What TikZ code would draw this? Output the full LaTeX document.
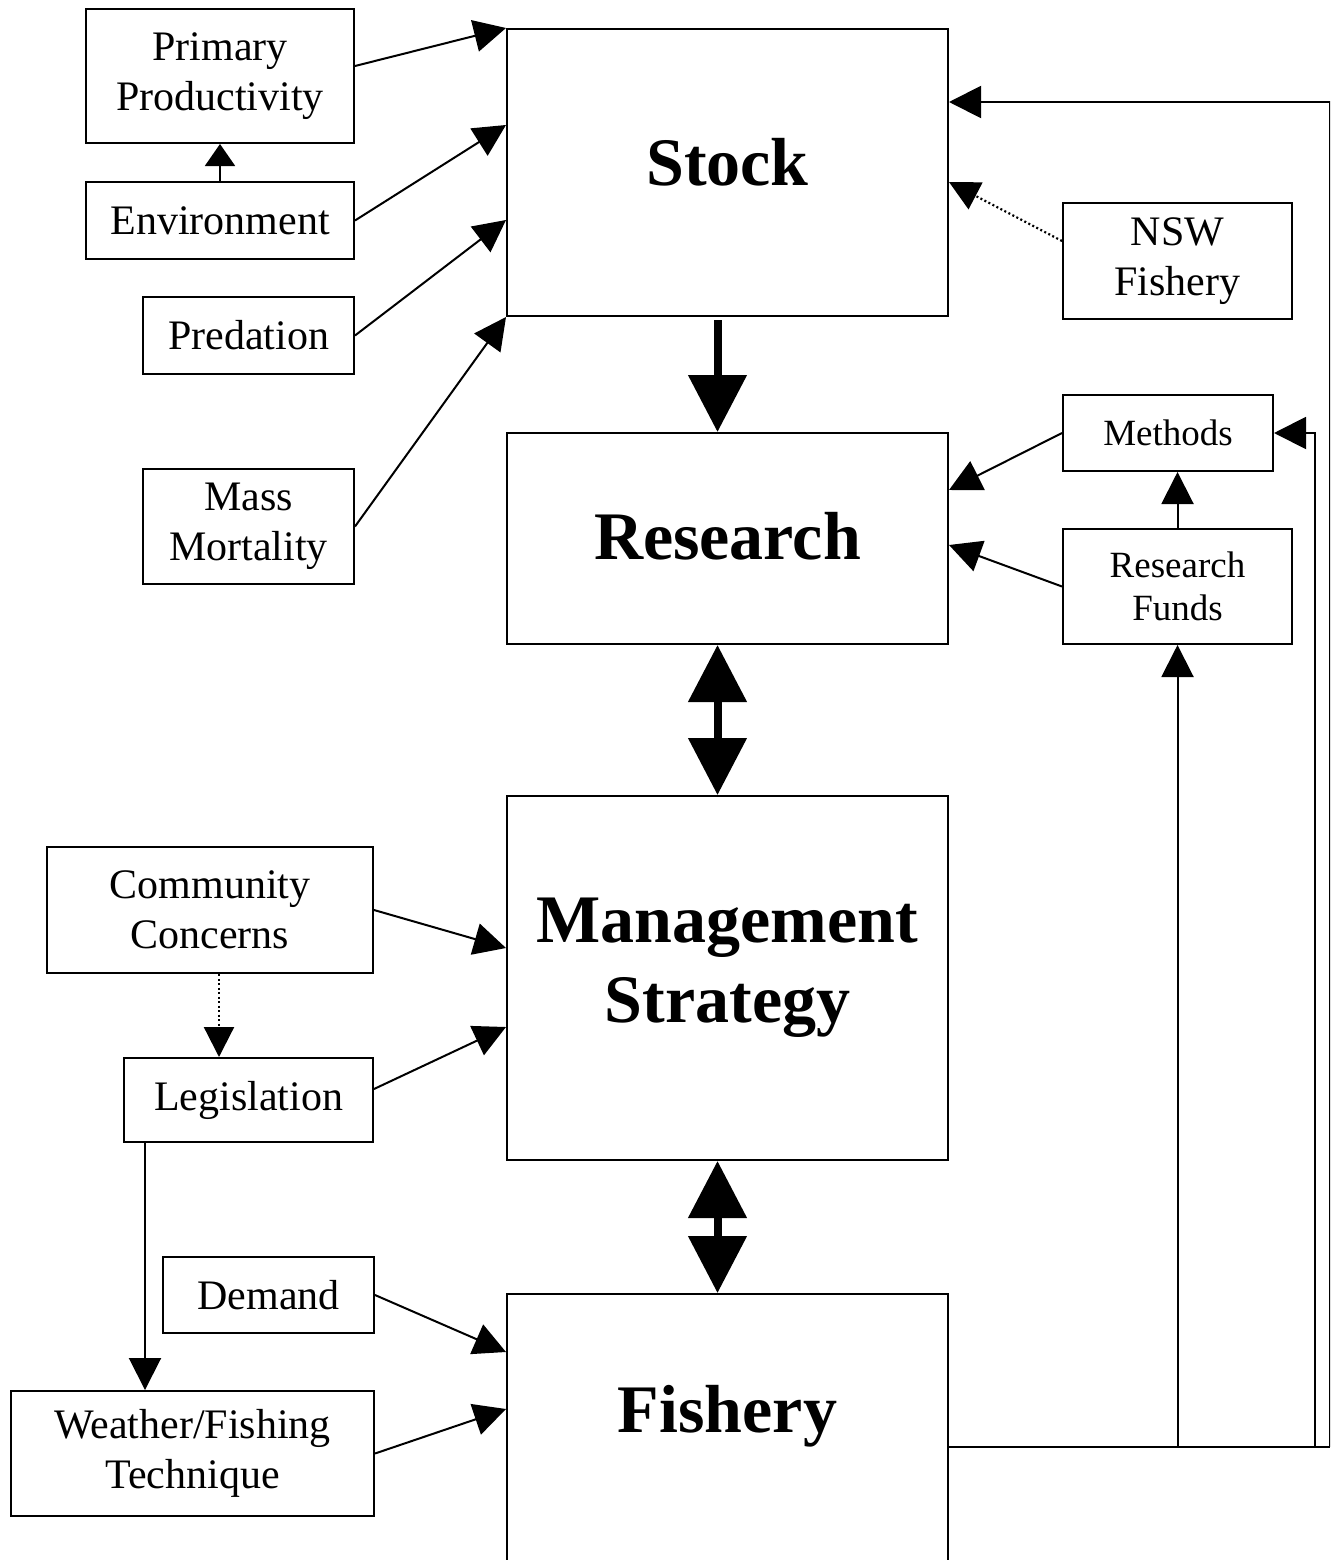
\documentclass[tikz,border=0pt]{standalone}
\usepackage{fontspec}
\setmainfont{Liberation Serif}
\usetikzlibrary{arrows.meta,calc}
\begin{document}
\begin{tikzpicture}[x=1pt,y=-1pt,
  box/.style={draw, line width=2pt, inner sep=0pt, anchor=north west, align=center,
    font=\fontsize{42}{50}\selectfont},
  sbox/.style={box, font=\fontsize{37}{43}\selectfont},
  bigbox/.style={draw, line width=2pt, inner sep=0pt, anchor=north west},
  bigtext/.style={font=\bfseries\fontsize{68}{80}\selectfont, align=center, inner sep=0pt},
  arr/.style={line width=2pt, -{Triangle[length=32pt,width=32pt]}},
  smallarr/.style={line width=2pt, -{Triangle[length=22pt,width=30pt]}},
  dotarr/.style={line width=2.2pt, dash pattern=on 2pt off 2.5pt, -{Triangle[length=30pt,width=30pt]}},
  thickarr/.style={line width=8pt, -{Triangle[length=57pt,width=57pt]}},
  dblarr/.style={line width=8pt, {Triangle[length=57pt,width=57pt]}-{Triangle[length=57pt,width=57pt]}},
]
\fill[white] (0,0) rectangle (1330,1560);
\useasboundingbox (0,0) rectangle (1330,1560);
\clip (0,0) rectangle (1330,1560);

% left column
\node[box, minimum width=268pt, minimum height=134pt] (pp) at (85,8) {Primary\\Productivity};
\node[box, minimum width=268pt, minimum height=77pt] (env) at (85,181) {Environment};
\node[box, minimum width=211pt, minimum height=77pt] (pred) at (142,296) {Predation};
\node[box, minimum width=211pt, minimum height=115pt] (mass) at (142,468) {Mass\\Mortality};

% central column
\node[bigbox, minimum width=441pt, minimum height=287pt,
  label={[bigtext, yshift=10pt]center:Stock}] (stock) at (506,28) {};
\node[bigbox, minimum width=441pt, minimum height=211pt,
  label={[bigtext, yshift=2pt]center:Research}] (research) at (506,432) {};
\node[bigbox, minimum width=441pt, minimum height=364pt,
  label={[bigtext, yshift=10pt]center:Management\\Strategy}] (mgmt) at (506,795) {};
\node[bigbox, minimum width=441pt, minimum height=330pt,
  label={[bigtext, anchor=center, yshift=-123pt]north:Fishery}] (fishery) at (506,1293) {};

% right column
\node[box, minimum width=229pt, minimum height=116pt] (nsw) at (1062,202) {NSW\\Fishery};
\node[sbox, minimum width=210pt, minimum height=76pt] (methods) at (1062,394) {Methods};
\node[sbox, minimum width=229pt, minimum height=115pt] (funds) at (1062,528) {Research\\Funds};

% lower left
\node[box, minimum width=326pt, minimum height=126pt] (comm) at (46,846) {Community\\Concerns};
\node[box, minimum width=249pt, minimum height=84pt] (legis) at (123,1057) {Legislation};
\node[box, minimum width=211pt, minimum height=76pt] (demand) at (162,1256) {Demand};
\node[box, minimum width=363pt, minimum height=125pt] (weather) at (10,1390) {Weather/Fishing\\Technique};

% arrows into Stock
\draw[arr] ([yshift=10pt]pp.east) -- (stock.north west);
\draw[arr] (env.east) -- ([yshift=-97pt]stock.north west);
\draw[arr] (pred.east) -- ([yshift=-192pt]stock.north west);
\draw[arr] (mass.east) -- (stock.south west);
\draw[smallarr] (env.north) -- (pp.south);
\draw[dotarr] ([yshift=20pt]nsw.west) -- ([yshift=-154pt]stock.north east);

% main chain
\draw[thickarr] ([xshift=-10pt,yshift=-3pt]stock.south) -- ([xshift=-10pt]research.north);
\draw[dblarr] ([xshift=-10pt]research.south) -- ([xshift=-10pt]mgmt.north);
\draw[dblarr] ([xshift=-10pt]mgmt.south) -- ([xshift=-10pt]fishery.north);

% research inputs
\draw[arr] (methods.west) -- ([yshift=-58pt]research.north east);
\draw[arr] (funds.west) -- ([yshift=-113pt]research.north east);
\draw[arr] (funds.north) -- (funds.north |- methods.south);

% feedback from Fishery
\coordinate (fb) at ([yshift=-154pt]fishery.north east);
\coordinate (fbR) at ([xshift=381pt]fb);
\coordinate (fbM) at ([xshift=366pt]fb);
\draw[line width=2pt] (fb) -- (fbR);
\draw[arr] (fbR) |- ([yshift=-74pt]stock.north east);
\draw[arr] (fbM) |- (methods.east);
\draw[arr] (funds.south |- fb) -- (funds.south);

% management inputs
\draw[arr] (comm.east) -- ([yshift=-153pt]mgmt.north west);
\draw[dotarr] ([xshift=9pt]comm.south) -- ([xshift=9pt]comm.south |- legis.north);
\draw[arr] ([yshift=11pt]legis.east) -- ([yshift=-232pt]mgmt.north west);
\draw[arr] ([xshift=22pt]legis.south west) -- ([xshift=22pt]legis.south west |- weather.north);

% fishery inputs
\draw[arr] (demand.east) -- ([yshift=-59pt]fishery.north west);
\draw[arr] (weather.east) -- ([yshift=-116pt]fishery.north west);
\end{tikzpicture}
\end{document}
